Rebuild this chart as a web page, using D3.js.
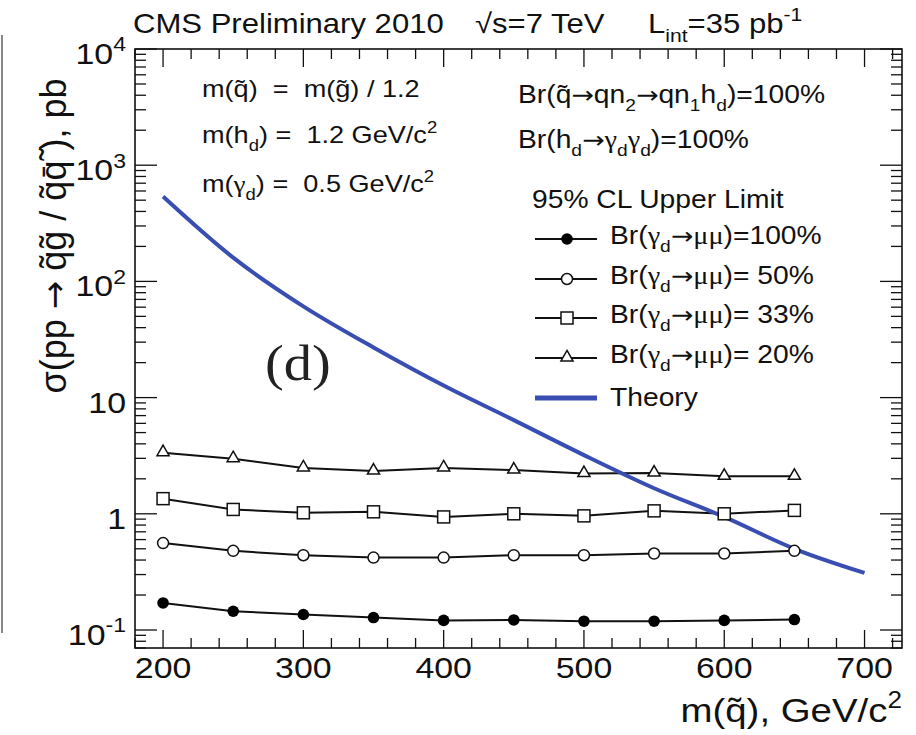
<!DOCTYPE html>
<html>
<head>
<meta charset="utf-8">
<script src="https://cdn.jsdelivr.net/npm/d3@7"></script>
<style>
  body { margin: 0; background: #fff; }
  svg { font-family: "Liberation Sans", Arial, sans-serif; }
</style>
</head>
<body>
<div class="vis-limit"></div>
<script>
// squark mass points and 95% CL upper limits (pb)
const mass = [200, 250, 300, 350, 400, 450, 500, 550, 600, 650];
const br100 = [0.171, 0.145, 0.136, 0.128, 0.121, 0.122, 0.119, 0.119, 0.121, 0.123];
const br50 = [0.56, 0.48, 0.44, 0.42, 0.42, 0.44, 0.44, 0.455, 0.455, 0.48];
const br33 = [1.35, 1.09, 1.02, 1.04, 0.94, 1.0, 0.96, 1.06, 1.0, 1.07];
const br20 = [3.36, 2.98, 2.48, 2.33, 2.48, 2.38, 2.22, 2.24, 2.1, 2.1];
const theoryMass = [200, 250, 300, 350, 400, 450, 500, 550, 600, 650, 700];
const theory = [537, 160, 61, 27, 12.7, 6.4, 3.2, 1.66, 0.94, 0.5, 0.31];
const xTicks = [200, 300, 400, 500, 600, 700];
const yTicks = [["10", "-1"], ["1", ""], ["10", ""], ["10", "2"], ["10", "3"], ["10", "4"]];
const yTickVals = [0.1, 1, 10, 100, 1000, 10000];

const W = 916, H = 735;
const SX = 1.13; // reference text looks a bit wide
const blue = "#3a4eb2";
const NB = "\u00a0";

const svg = d3.select(".vis-limit").append("svg")
  .attr("width", W).attr("height", H);

const x = d3.scaleLinear().domain([180, 726.7]).range([135, 902]);
const y = d3.scaleLog().domain([0.07, 10000]).range([648, 49]);

// grey border left over from the page crop
svg.append("line").attr("x1", 2).attr("x2", 2).attr("y1", 35).attr("y2", 633)
  .attr("stroke", "#888").attr("stroke-width", 2);

// rich text: parts = [[text, "n"|"sub"|"sup"|"arr"|"gr"], ...]
function rich(parent, px, py, size, parts, anchor) {
  const t = parent.append("text")
    .attr("transform", "translate(" + px + "," + py + ") scale(" + SX + ",1)")
    .attr("font-size", size)
    .attr("text-anchor", anchor || "start")
    .attr("fill", "#111");
  let shift = 0;
  parts.forEach(function (p) {
    const target = p[1] === "sub" ? size * 0.32 : p[1] === "sup" ? -size * 0.42 : 0;
    const small = p[1] === "sub" || p[1] === "sup";
    const ts = t.append("tspan")
      .attr("dy", target - shift)
      .attr("font-size", small ? size * 0.68 : size)
      .text(p[0]);
    if (p[1] === "arr") ts.attr("font-family", "'DejaVu Sans', sans-serif").attr("font-size", size * 0.95);
    if (p[1] === "gr") ts.attr("font-family", "'Liberation Serif', serif");
    shift = target;
  });
  return t;
}

// axes ticks (ROOT style, on all four sides)
const g = svg.append("g");
const xMinor = d3.range(180, 727, 20);
xMinor.forEach(function (v) {
  const len = v % 100 === 0 ? 18 : 10;
  g.append("line").attr("x1", x(v)).attr("x2", x(v)).attr("y1", 648).attr("y2", 648 - len)
    .attr("stroke", "#111").attr("stroke-width", 1.3);
  g.append("line").attr("x1", x(v)).attr("x2", x(v)).attr("y1", 49).attr("y2", 49 + len)
    .attr("stroke", "#111").attr("stroke-width", 1.3);
});
const yMinor = [];
[0.01, 0.1, 1, 10, 100, 1000].forEach(function (d) {
  for (let k = 1; k < 10; k++) yMinor.push({ v: d * k, major: k === 1 });
});
yMinor.push({ v: 10000, major: true });
yMinor.filter(function (t) { return t.v >= 0.07 && t.v <= 10000; }).forEach(function (t) {
  const len = t.major ? 22 : 11;
  g.append("line").attr("x1", 135).attr("x2", 135 + len).attr("y1", y(t.v)).attr("y2", y(t.v))
    .attr("stroke", "#111").attr("stroke-width", 1.3);
  g.append("line").attr("x1", 902).attr("x2", 902 - len).attr("y1", y(t.v)).attr("y2", y(t.v))
    .attr("stroke", "#111").attr("stroke-width", 1.3);
});

// frame
svg.append("rect").attr("x", 135).attr("y", 49).attr("width", 767).attr("height", 599)
  .attr("fill", "none").attr("stroke", "#111").attr("stroke-width", 1.6);

// tick labels
xTicks.forEach(function (v) {
  rich(svg, x(v), 678, 30, [[String(v), "n"]], "middle");
});
yTicks.forEach(function (lab, i) {
  const parts = [[lab[0], "n"]];
  if (lab[1]) parts.push([lab[1], "sup"]);
  rich(svg, 126, y(yTickVals[i]) + 15, 30, parts, "end");
});

// axis titles
rich(svg, 902, 722, 34, [["m(q\u0303), GeV/c", "n"], ["2", "sup"]], "end");
const ylab = svg.append("text")
  .attr("transform", "translate(66,236) rotate(-90)")
  .attr("font-size", 36)
  .attr("text-anchor", "middle")
  .attr("fill", "#111");
ylab.append("tspan").text("\u03c3(pp ");
ylab.append("tspan").attr("font-family", "'DejaVu Sans', sans-serif").attr("font-size", 34).text("\u2192");
ylab.append("tspan").text(" q\u0303g\u0303 / q\u0303q\u0304\u0303 ), pb");

// header
rich(svg, 133, 33, 27.5, [["CMS Preliminary 2010", "n"]]);
rich(svg, 475, 33, 27.5, [["\u221as=7 TeV", "n"]]);
rich(svg, 648, 33, 27.5, [["L", "n"], ["int", "sub"], ["=35 pb", "n"], ["-1", "sup"]]);

// annotations
rich(svg, 202, 97, 24, [["m(q\u0303)" + NB + NB + "=" + NB + NB + "m(g\u0303) / 1.2", "n"]]);
rich(svg, 202, 143, 24, [["m(h", "n"], ["d", "sub"], [")" + NB + "=" + NB + NB + "1.2 GeV/c", "n"], ["2", "sup"]]);
rich(svg, 202, 192, 24, [["m(", "n"], ["\u03b3", "gr"], ["d", "sub"], [")" + NB + "=" + NB + NB + "0.5 GeV/c", "n"], ["2", "sup"]]);
rich(svg, 518, 103, 25, [["Br(q\u0303", "n"], ["\u2192", "arr"], ["qn", "n"], ["2", "sub"], ["\u2192", "arr"], ["qn", "n"], ["1", "sub"],
  ["h", "n"], ["d", "sub"], [")=100%", "n"]]);
rich(svg, 518, 148, 25, [["Br(h", "n"], ["d", "sub"], ["\u2192", "arr"], ["\u03b3", "gr"], ["d", "sub"],
  ["\u03b3", "gr"], ["d", "sub"], [")=100%", "n"]]);
rich(svg, 532, 208, 25, [["95% CL Upper Limit", "n"]]);

svg.append("text")
  .attr("transform", "translate(265,380) scale(" + SX + ",1)")
  .attr("font-family", "'Liberation Serif', 'DejaVu Serif', serif")
  .attr("font-size", 50)
  .attr("fill", "#222")
  .text("(d)");

// series
const series = [
  { name: "100%", values: br100, marker: "fcircle" },
  { name: NB + "50%", values: br50, marker: "ocircle" },
  { name: NB + "33%", values: br33, marker: "square" },
  { name: NB + "20%", values: br20, marker: "triangle" }
];

function drawMarker(parent, type, cx, cy) {
  if (type === "fcircle") {
    parent.append("circle").attr("cx", cx).attr("cy", cy).attr("r", 5.8).attr("fill", "#000");
  } else if (type === "ocircle") {
    parent.append("circle").attr("cx", cx).attr("cy", cy).attr("r", 5.5)
      .attr("fill", "#fff").attr("stroke", "#111").attr("stroke-width", 1.5);
  } else if (type === "square") {
    parent.append("rect").attr("x", cx - 6).attr("y", cy - 6).attr("width", 12).attr("height", 12)
      .attr("fill", "#fff").attr("stroke", "#111").attr("stroke-width", 1.5);
  } else {
    parent.append("path").attr("d", d3.symbol(d3.symbolTriangle, 64)())
      .attr("transform", "translate(" + cx + "," + (cy - 0.5) + ")")
      .attr("fill", "#fff").attr("stroke", "#111").attr("stroke-width", 1.5);
  }
}

const line = d3.line().x(function (d) { return x(d[0]); }).y(function (d) { return y(d[1]); });

series.forEach(function (s) {
  const pts = mass.map(function (m, i) { return [m, s.values[i]]; });
  svg.append("path").attr("d", line(pts)).attr("fill", "none")
    .attr("stroke", "#111").attr("stroke-width", 2);
});

// theory curve
const tpts = theoryMass.map(function (m, i) { return [m, theory[i]]; });
svg.append("path").attr("d", line.curve(d3.curveMonotoneX)(tpts)).attr("fill", "none")
  .attr("stroke", blue).attr("stroke-width", 4);
line.curve(d3.curveLinear);

series.forEach(function (s) {
  mass.forEach(function (m, i) { drawMarker(svg, s.marker, x(m), y(s.values[i])); });
});

// legend
const legY = [239, 279, 318, 358, 398];
series.forEach(function (s, i) {
  svg.append("line").attr("x1", 535).attr("x2", 597).attr("y1", legY[i]).attr("y2", legY[i])
    .attr("stroke", "#111").attr("stroke-width", 2);
  drawMarker(svg, s.marker, 567, legY[i]);
  rich(svg, 610, legY[i] + 5, 25, [["Br(", "n"], ["\u03b3", "gr"], ["d", "sub"], ["\u2192", "arr"],
    ["\u03bc\u03bc", "gr"], [")=" + s.name, "n"]]);
});
svg.append("line").attr("x1", 535).attr("x2", 597).attr("y1", legY[4]).attr("y2", legY[4])
  .attr("stroke", blue).attr("stroke-width", 5);
rich(svg, 610, legY[4] + 8, 25, [["Theory", "n"]]);
</script>
</body>
</html>
